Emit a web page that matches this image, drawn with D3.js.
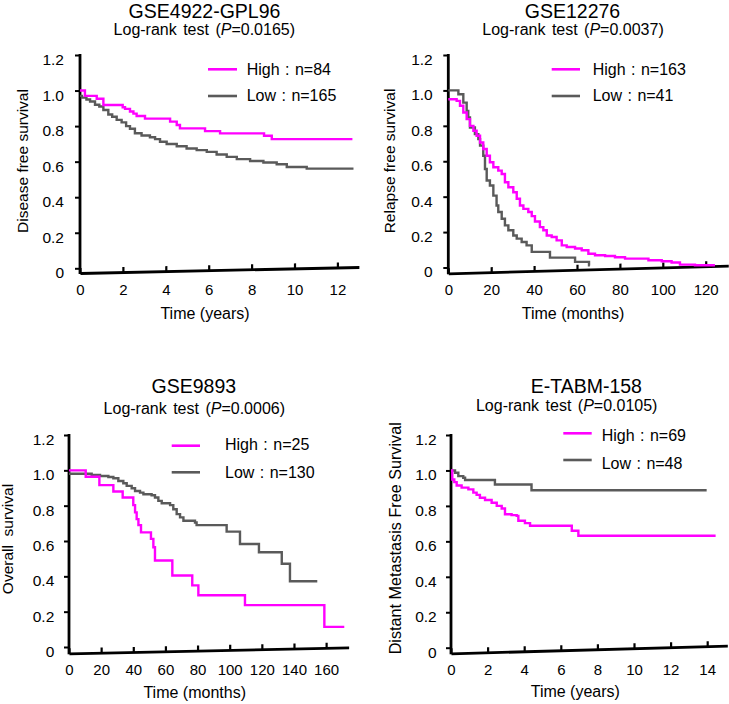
<!DOCTYPE html>
<html><head><meta charset="utf-8">
<script src="https://cdn.jsdelivr.net/npm/d3@7"></script>
<style>body{margin:0;background:#fff}svg{display:block}</style>
</head><body><svg id="c" width="729" height="704"></svg>
<script>
// ---------- data ----------
const yTickValues = [0, 0.2, 0.4, 0.6, 0.8, 1.0, 1.2];
const yTickLabels = ["0", "0.2", "0.4", "0.6", "0.8", "1.0", "1.2"];

const titles = ["GSE4922-GPL96", "GSE12276", "GSE9893", "E-TABM-158"];
const pValues = ["0.0165", "0.0037", "0.0006", "0.0105"];
const yLabels = ["Disease free survival", "Relapse free survival", "Overall  survival", "Distant Metastasis Free Survival"];
const xLabels = ["Time (years)", "Time (months)", "Time (months)", "Time (years)"];
const highLegend = ["High : n=84", "High : n=163", "High : n=25", "High : n=69"];
const lowLegend = ["Low : n=165", "Low : n=41", "Low : n=130", "Low : n=48"];

const xTicks1 = [0, 2, 4, 6, 8, 10, 12];
const xTicks2 = [0, 20, 40, 60, 80, 100, 120];
const xTicks3 = [0, 20, 40, 60, 80, 100, 120, 140, 160];
const xTicks4 = [0, 2, 4, 6, 8, 10, 12, 14];
const xMax = [13, 130.5, 174, 15.1];

// Panel 1 (years)
const p1HighTime = [0, 0.23, 0.78, 1.09, 1.99, 2.1, 2.33, 2.49, 2.64, 3.03, 4.2, 4.51, 4.66, 5.83, 6.53, 8.58, 8.94, 12.7];
const p1HighSurv = [1.0, 0.97, 0.954, 0.919, 0.906, 0.897, 0.882, 0.87, 0.857, 0.842, 0.825, 0.806, 0.787, 0.772, 0.759, 0.746, 0.727, 0.727];
const p1LowTime = [0, 0.09, 0.3, 0.47, 0.7, 0.9, 1.09, 1.32, 1.5, 1.71, 1.94, 2.15, 2.33, 2.56, 2.87, 3.26, 3.5, 3.73, 4.04, 4.51, 4.97, 5.44, 5.91, 6.37, 6.84, 7.31, 7.93, 8.55, 9.17, 9.64, 10.57, 12.75];
const p1LowSurv = [0.97, 0.96, 0.95, 0.938, 0.92, 0.91, 0.891, 0.865, 0.853, 0.835, 0.821, 0.8, 0.785, 0.76, 0.747, 0.737, 0.727, 0.712, 0.699, 0.687, 0.674, 0.665, 0.655, 0.64, 0.627, 0.614, 0.604, 0.595, 0.585, 0.57, 0.561, 0.561];

// Panel 2 (months)
const p2HighTime = [0, 3.9, 5.45, 7.0, 8.56, 10.1, 11.7, 13.2, 14.8, 16.3, 17.9, 19.4, 21.0, 23.3, 24.9, 26.4, 28.0, 30.3, 31.9, 33.4, 35.0, 37.3, 38.9, 40.4, 42.7, 44.3, 45.9, 48.2, 50.5, 52.9, 55.2, 59.1, 62.2, 65.3, 68.4, 73.1, 77.7, 82.4, 93.3, 99.5, 104.1, 108.0, 115.0, 124.3];
const p2HighSurv = [0.95, 0.941, 0.913, 0.875, 0.838, 0.8, 0.772, 0.744, 0.706, 0.669, 0.631, 0.594, 0.566, 0.547, 0.528, 0.481, 0.453, 0.425, 0.388, 0.35, 0.331, 0.313, 0.29, 0.26, 0.228, 0.21, 0.181, 0.172, 0.153, 0.125, 0.116, 0.107, 0.097, 0.078, 0.069, 0.065, 0.058, 0.05, 0.041, 0.035, 0.028, 0.016, 0.013, 0.013];
const p2LowTime = [0, 4.7, 7.0, 8.56, 9.3, 10.1, 12.4, 14.0, 14.8, 16.3, 17.1, 17.9, 19.4, 21.0, 22.5, 23.3, 24.9, 26.4, 28.0, 30.3, 31.9, 34.2, 36.5, 38.9, 47.4, 59.1, 65.6, 66.0];
const p2LowSurv = [1.0, 0.978, 0.931, 0.884, 0.847, 0.791, 0.753, 0.725, 0.688, 0.631, 0.556, 0.491, 0.463, 0.406, 0.35, 0.313, 0.275, 0.238, 0.21, 0.181, 0.163, 0.144, 0.125, 0.088, 0.056, 0.032, 0.012, 0.012];

// Panel 3 (months)
const p3HighTime = [0, 10.4, 18.9, 27.6, 33.4, 40.0, 41.1, 42.1, 43.2, 44.8, 51.0, 52.5, 53.5, 64.3, 76.7, 80.5, 109.5, 158.9, 171.3];
const p3HighSurv = [1.0, 0.964, 0.916, 0.88, 0.846, 0.803, 0.762, 0.724, 0.69, 0.649, 0.612, 0.565, 0.49, 0.405, 0.349, 0.293, 0.237, 0.114, 0.114];
const p3LowTime = [0, 14.1, 19.3, 24.5, 27.6, 30.7, 33.8, 35.9, 39.0, 41.1, 44.2, 46.3, 51.4, 53.5, 55.6, 57.7, 62.9, 64.9, 67.0, 69.1, 71.2, 78.4, 79.4, 98.1, 106.4, 118.2, 132.4, 137.5, 154.5];
const p3LowSurv = [0.981, 0.974, 0.968, 0.962, 0.955, 0.94, 0.927, 0.912, 0.899, 0.883, 0.874, 0.865, 0.859, 0.846, 0.827, 0.814, 0.803, 0.78, 0.752, 0.734, 0.715, 0.705, 0.69, 0.653, 0.583, 0.536, 0.471, 0.372, 0.372];

// Panel 4 (years)
const p4HighTime = [0, 0.07, 0.18, 0.31, 0.58, 0.95, 1.22, 1.40, 1.58, 1.86, 2.22, 2.5, 2.77, 2.95, 3.31, 3.59, 3.68, 4.04, 4.32, 6.6, 6.96, 14.46];
const p4HighSurv = [1.0, 0.949, 0.934, 0.915, 0.903, 0.893, 0.875, 0.862, 0.846, 0.833, 0.818, 0.8, 0.785, 0.753, 0.748, 0.744, 0.716, 0.703, 0.688, 0.66, 0.632, 0.632];
const p4LowTime = [0, 0.22, 0.4, 0.67, 0.77, 2.4, 4.4, 13.97];
const p4LowSurv = [1.0, 0.987, 0.968, 0.959, 0.946, 0.921, 0.888, 0.888];

// ---------- layout (positions only) ----------
const layouts = [
  {x0: 80, ppu: 21.45, yZero: 268.3, yTop: 55, axL: 273, axR: 267, tX: 204.5, tY: 17.5, sX: 204.3, sY: 35,
   ylX: 28, ylY: 161, ylSize: 15.5, xlX: 205, xlY: 319, xtY: 295, gap: 16,
   lgX1: 208, lgX2: 237, lgY1: 69.3, lgY2: 96, lgTX: 246.7, lgTY1: 75, lgTY2: 101},
  {x0: 448.3, ppu: 2.145, yZero: 267.5, yTop: 55, axL: 273.3, axR: 265.7, tX: 572.5, tY: 17.5, sX: 573, sY: 35,
   ylX: 395, ylY: 161, ylSize: 15.5, xlX: 573, xlY: 319, xtY: 295, gap: 15.6,
   lgX1: 551.7, lgX2: 580, lgY1: 69.3, lgY2: 96, lgTX: 592.7, lgTY1: 75, lgTY2: 101},
  {x0: 69, ppu: 1.607, yZero: 647, yTop: 435, axL: 653.3, axR: 647.3, tX: 193.8, tY: 393, sX: 194.3, sY: 413.5,
   ylX: 13, ylY: 539, ylSize: 15.5, xlX: 194.7, xlY: 698, xtY: 675, gap: 14.7,
   lgX1: 171.7, lgX2: 200, lgY1: 445.7, lgY2: 472.3, lgTX: 225, lgTY1: 449.5, lgTY2: 478.3},
  {x0: 451, ppu: 18.3, yZero: 647.7, yTop: 435, axL: 653.3, axR: 645.7, tX: 586.3, tY: 393, sX: 566.7, sY: 411,
   ylX: 401, ylY: 538.3, ylSize: 16.2, xlX: 575.3, xlY: 696.7, xtY: 675, gap: 14.3,
   lgX1: 563.3, lgX2: 591.7, lgY1: 433.3, lgY2: 460, lgTX: 601.7, lgTY1: 440.7, lgTY2: 469}
];

const xTickSets = [xTicks1, xTicks2, xTicks3, xTicks4];
const highSeries = [[p1HighTime, p1HighSurv], [p2HighTime, p2HighSurv], [p3HighTime, p3HighSurv], [p4HighTime, p4HighSurv]];
const lowSeries = [[p1LowTime, p1LowSurv], [p2LowTime, p2LowSurv], [p3LowTime, p3LowSurv], [p4LowTime, p4LowSurv]];

const FONT = "'Liberation Sans', Arial, Helvetica, sans-serif";
const MAGENTA = "#ff00ff";
const GRAY = "#5a5a5a";

const svg = d3.select("#c").style("font-family", FONT);

function drawPanel(i) {
  const L = layouts[i];
  const g = svg.append("g");
  const xEnd = L.x0 + xMax[i] * L.ppu;
  const x = d3.scaleLinear().domain([0, xMax[i]]).range([L.x0, xEnd]);
  const y = d3.scaleLinear().domain([0, 1.2]).range([L.yZero, L.yTop]);

  // title & subtitle
  g.append("text").attr("x", L.tX).attr("y", L.tY).attr("text-anchor", "middle")
    .attr("font-size", 19.5).attr("fill", "#000").text(titles[i]);
  const st = g.append("text").attr("x", L.sX).attr("y", L.sY).attr("text-anchor", "middle")
    .attr("font-size", 16).attr("fill", "#000").attr("word-spacing", "2px");
  st.append("tspan").text("Log-rank test (");
  st.append("tspan").attr("font-style", "italic").text("P");
  st.append("tspan").text("=" + pValues[i] + ")");

  // y axis
  const yAx = d3.axisLeft(y).tickValues(yTickValues)
    .tickFormat((d, k) => yTickLabels[k]).tickSizeInner(5).tickSizeOuter(0).tickPadding(L.gap - 5);
  const yg = g.append("g").attr("transform", `translate(${L.x0},0)`).call(yAx);
  yg.select(".domain").remove();
  yg.selectAll(".tick line").attr("stroke", "#000").attr("stroke-width", 2);
  yg.selectAll(".tick text").attr("font-size", 15.5).attr("font-family", FONT).attr("fill", "#000").attr("y", 4.5);
  g.append("line").attr("x1", L.x0).attr("x2", L.x0).attr("y1", L.yTop - 1).attr("y2", L.axL + 1)
    .attr("stroke", "#000").attr("stroke-width", 2.8);

  // x axis (slightly tilted as in the scan)
  const w = xEnd - L.x0;
  const ang = Math.atan2(L.axR - L.axL, w) * 180 / Math.PI;
  const xLocal = x.copy().range([0, w]);
  const xAx = d3.axisBottom(xLocal).tickValues(xTickSets[i]).tickFormat("")
    .tickSizeInner(-5).tickSizeOuter(0);
  const xg = g.append("g").attr("transform", `translate(${L.x0},${L.axL}) skewY(${ang})`).call(xAx);
  xg.select(".domain").attr("stroke", "#000").attr("stroke-width", 2.8);
  xg.selectAll(".tick line").attr("stroke", "#000").attr("stroke-width", 2.2);
  // x tick labels
  const xAxL = d3.axisBottom(x).tickValues(xTickSets[i]).tickSize(0).tickPadding(0);
  const xlg = g.append("g").attr("transform", `translate(0,${L.xtY - 10.5})`).call(xAxL);
  xlg.select(".domain").remove();
  xlg.selectAll(".tick text").attr("font-size", 15).attr("font-family", FONT).attr("fill", "#000");

  // axis titles
  g.append("text").attr("x", L.xlX).attr("y", L.xlY).attr("text-anchor", "middle")
    .attr("font-size", 16).attr("fill", "#000").text(xLabels[i]);
  g.append("text").attr("transform", `translate(${L.ylX},${L.ylY}) rotate(-90)`)
    .attr("text-anchor", "middle").attr("font-size", L.ylSize).attr("fill", "#000")
    .attr("xml:space", "preserve").style("white-space", "pre").text(yLabels[i]);

  // curves
  const line = d3.line().x(d => x(d[0])).y(d => y(d[1])).curve(d3.curveStepAfter);
  const lowPts = d3.zip(lowSeries[i][0], lowSeries[i][1]);
  const highPts = d3.zip(highSeries[i][0], highSeries[i][1]);
  g.append("path").datum(lowPts).attr("d", line).attr("fill", "none")
    .attr("stroke", GRAY).attr("stroke-width", 2.4);
  g.append("path").datum(highPts).attr("d", line).attr("fill", "none")
    .attr("stroke", MAGENTA).attr("stroke-width", 2.4);

  // legend
  g.append("line").attr("x1", L.lgX1).attr("x2", L.lgX2).attr("y1", L.lgY1).attr("y2", L.lgY1)
    .attr("stroke", MAGENTA).attr("stroke-width", 2.6);
  g.append("line").attr("x1", L.lgX1).attr("x2", L.lgX2).attr("y1", L.lgY2).attr("y2", L.lgY2)
    .attr("stroke", GRAY).attr("stroke-width", 2.6);
  g.append("text").attr("x", L.lgTX).attr("y", L.lgTY1).attr("font-size", 16).attr("fill", "#000")
    .attr("word-spacing", "1px").text(highLegend[i]);
  g.append("text").attr("x", L.lgTX).attr("y", L.lgTY2).attr("font-size", 16).attr("fill", "#000")
    .attr("word-spacing", "1px").text(lowLegend[i]);
}

for (let i = 0; i < 4; i++) drawPanel(i);
</script>
</body></html>
